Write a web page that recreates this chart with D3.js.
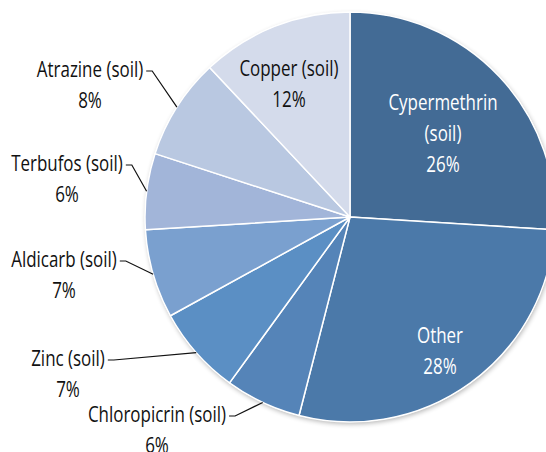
<!DOCTYPE html>
<html>
<head>
<meta charset="utf-8">
<script src="https://cdn.jsdelivr.net/npm/d3@7"></script>
<style>
  html, body { margin: 0; padding: 0; background: #fff; }
  svg { display: block; }
  text { font-family: "Open Sans", "Noto Sans", sans-serif; font-size: 22px; }
</style>
</head>
<body>
<svg id="chart" width="546" height="452"></svg>
<script>
// Pesticide share by soil contaminant (percent), clockwise from 12 o'clock
const categories = ["Cypermethrin (soil)", "Other", "Chloropicrin (soil)", "Zinc (soil)",
                    "Aldicarb (soil)", "Terbufos (soil)", "Atrazine (soil)", "Copper (soil)"];
const shares = [26, 28, 6, 7, 7, 6, 8, 12];
const sliceColors = ["#436b95", "#4b79a9", "#5584b8", "#5b8fc4",
                     "#7aa0cf", "#a2b5d9", "#b9c8e1", "#d4dbeb"];

// Label text lines for each slice
const labelLines = [
  ["Cypermethrin", "(soil)", "26%"],
  ["Other", "28%"],
  ["Chloropicrin (soil)", "6%"],
  ["Zinc (soil)", "7%"],
  ["Aldicarb (soil)", "7%"],
  ["Terbufos (soil)", "6%"],
  ["Atrazine (soil)", "8%"],
  ["Copper (soil)", "12%"]
];

// Label placement: centre x, first baseline y, inside/outside, fill
const labelLayout = [
  { x: 443, y: 110, inside: true,  fill: "#fff" },
  { x: 440, y: 343, inside: true,  fill: "#fff" },
  { x: 157, y: 422, inside: false, fill: "#111" },
  { x: 68,  y: 366, inside: false, fill: "#111" },
  { x: 64,  y: 267, inside: false, fill: "#111" },
  { x: 67,  y: 171, inside: false, fill: "#111" },
  { x: 90,  y: 77,  inside: false, fill: "#111" },
  { x: 289, y: 76,  inside: true,  fill: "#111" }
];

const cx = 350, cy = 217, radius = 205, lineGap = 31;
const condense = 0.77; // horizontal squeeze for a condensed face

const svg = d3.select("#chart");

const defs = svg.append("defs");
const shadow = defs.append("filter").attr("id", "shadow")
  .attr("x", "-10%").attr("y", "-10%").attr("width", "120%").attr("height", "120%");
shadow.append("feGaussianBlur").attr("in", "SourceAlpha").attr("stdDeviation", 2.5);
shadow.append("feOffset").attr("dx", 1).attr("dy", 2).attr("result", "blur");
shadow.append("feComponentTransfer").append("feFuncA").attr("type", "linear").attr("slope", 0.3);
const merge = shadow.append("feMerge");
merge.append("feMergeNode");
merge.append("feMergeNode").attr("in", "SourceGraphic");

const data = categories.map((c, i) => ({ name: c, value: shares[i], i }));

const pie = d3.pie().value(d => d.value).sort(null);
const arcs = pie(data);
const arc = d3.arc().innerRadius(0).outerRadius(radius);

const g = svg.append("g").attr("transform", `translate(${cx},${cy})`);

g.append("circle").attr("r", radius).attr("fill", "#fff").attr("filter", "url(#shadow)");

g.selectAll("path.slice")
  .data(arcs)
  .join("path")
  .attr("class", "slice")
  .attr("d", arc)
  .attr("fill", d => sliceColors[d.data.i])
  .attr("stroke", "#fff")
  .attr("stroke-width", 1.5)
  .attr("stroke-linejoin", "round");

// Labels
const labels = svg.append("g");
arcs.forEach(a => {
  const i = a.data.i;
  const lay = labelLayout[i];
  const t = labels.append("g")
    .attr("transform", `translate(${lay.x},0) scale(${condense},1)`)
    .append("text")
    .attr("text-anchor", "middle")
    .attr("fill", lay.fill);
  labelLines[i].forEach((ln, k) => {
    t.append("tspan").attr("x", 0).attr("y", lay.y + k * lineGap).text(ln);
  });

  if (!lay.inside) {
    // Leader from the end of the first line to the slice edge at its mid-angle
    const first = t.select("tspan").node();
    const w = first.getComputedTextLength() * condense;
    const x0 = lay.x + w / 2 + 3;
    const y0 = lay.y - 6;
    const mid = (a.startAngle + a.endAngle) / 2;
    const ex = cx + radius * Math.sin(mid);
    const ey = cy - radius * Math.cos(mid);
    labels.append("path")
      .attr("d", d3.line()([[x0, y0], [x0 + 6, y0], [ex, ey]]))
      .attr("fill", "none")
      .attr("stroke", "#111")
      .attr("stroke-width", 1.2);
  }
});
</script>
</body>
</html>
